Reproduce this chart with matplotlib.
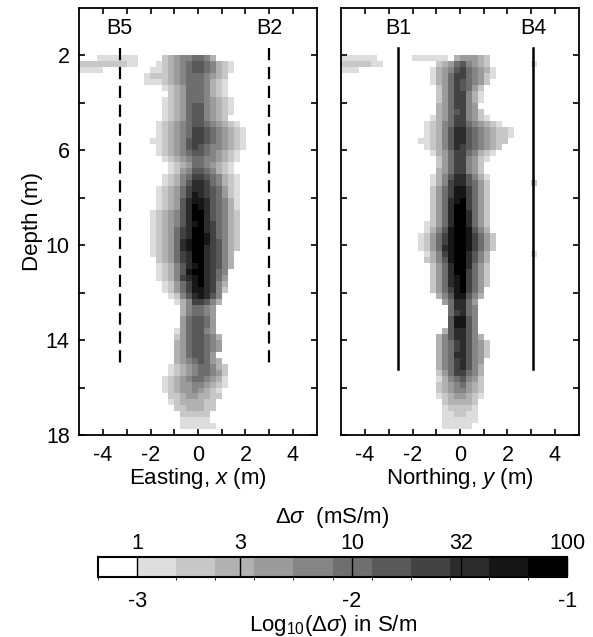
import numpy as np
import matplotlib
matplotlib.use("Agg")
import matplotlib.pyplot as plt
from matplotlib.colors import ListedColormap, BoundaryNorm

plt.rcParams['font.family'] = ['Liberation Sans', 'DejaVu Sans']
plt.rcParams['mathtext.fontset'] = 'custom'
plt.rcParams['mathtext.rm'] = 'Liberation Sans'
plt.rcParams['mathtext.it'] = 'Liberation Sans:italic'
plt.rcParams['axes.unicode_minus'] = False

# grid: 0.25 m cells, x from -5 to 5 (40 columns), depth 0 to 18 (72 rows)
# '.' = below 1 mS/m, 1..9,a,b = colour class
D = "."
east_rows = [""] * 8 + [
    D*3 + "1111111" + D*4 + "23455" + "66" + "53",
    "2222222211" + D*3 + "123456" + "77" + "65321",
    "1111" + D*8 + "1123456" + "77" + "65321",
    D*11 + "12223456" + "66" + "5432",
    D*11 + "11123456" + "66" + "5321",
    D*14 + "12346" + "66" + "5321",
    D*15 + "2346" + "66" + "5321",
    D*14 + "12346" + "66" + "54321",
    D*14 + "12346" + "77" + "54321",
    D*14 + "12346" + "77" + "54321",
    D*14 + "12346" + "77" + "5432",
    D*13 + "123456" + "77" + "654321",
    D*13 + "123456" + "88" + "7654321",
    D*13 + "123456" + "88" + "7654321",
    D*12 + "1123457" + "88" + "7654321",
    D*13 + "123457" + "87" + "6554321",
    D*13 + "123456" + "77" + "654321",
    D*14 + "12345" + "66" + "554321",
    D*15 + "1234" + "66" + "54321",
    D*15 + "1245" + "77" + "65321",
    D*14 + "12356" + "88" + "765321",
    D*14 + "12357" + "99" + "865321",
    D*13 + "123468" + "99" + "876421",
    D*13 + "123468" + "a9" + "876421",
    D*13 + "123479" + "aa" + "976531",
    D*13 + "123479" + "ba" + "976531",
    D*12 + "1234579" + "bb" + "976532",
    D*12 + "1234579" + "bb" + "976532",
    D*12 + "1234579" + "ab" + "986532",
    D*12 + "1234689" + "bb" + "986532",
    D*12 + "1234689" + "bb" + "a86532",
    D*12 + "123469a" + "bb" + "a87532",
    D*12 + "123469a" + "bb" + "987532",
    D*12 + "1234689" + "bb" + "98753",
    D*13 + "234689" + "bb" + "98753",
    D*13 + "123579" + "ab" + "98753",
    D*13 + "12357a" + "bb" + "9865",
    D*13 + "123589" + "ab" + "9864",
    D*14 + "12468" + "ab" + "9853",
    D*14 + "12468" + "aa" + "9852",
    D*15 + "1257" + "9a" + "975",
    D*16 + "135" + "88" + "753",
    D*17 + "35" + "66" + "54",
    D*17 + "35" + "66" + "54",
    D*17 + "46" + "77" + "64",
    D*17 + "46" + "77" + "64",
    D*16 + "146" + "77" + "54",
    D*16 + "246" + "77" + "653",
    D*16 + "346" + "77" + "654",
    D*16 + "346" + "77" + "654",
    D*16 + "346" + "77" + "64",
    D*16 + "345" + "67" + "643",
    D*15 + "1234" + "56" + "6532",
    D*15 + "1234" + "56" + "6542",
    D*14 + "12345" + "66" + "5431",
    D*14 + "12344" + "55" + "4321",
    D*14 + "12344" + "54" + "321",
    D*15 + "2234" + "43" + "322",
    D*15 + "1233" + "33" + "22",
    D*16 + "223" + "33" + "22",
    D*17 + "22" + "22" + "2",
    D*17 + "11" + "11" + "1",
    D*17 + "11" + "11" + "11",
    "",
]

north_rows = [""] * 8 + [
    "111111" + D*6 + "111111" + D + "344432",
    "2222211" + D*9 + "234" + "67" + "5432" + D*7 + "1",
    "111" + D*12 + "1345" + "78" + "65431",
    D*15 + "1346" + "88" + "65421",
    D*15 + "1346" + "87" + "6542",
    D*16 + "246" + "87" + "642",
    D*16 + "246" + "88" + "531",
    D*16 + "246" + "88" + "531",
    D*16 + "346" + "88" + "54",
    D*16 + "346" + "78" + "542",
    D*15 + "1346" + "88" + "5421",
    D*14 + "12356" + "88" + "654321",
    D*14 + "12357" + "99" + "76543221",
    D*14 + "12357" + "99" + "76543221",
    D*13 + "112357" + "99" + "7654322",
    D*14 + "12357" + "98" + "765432",
    D*15 + "1346" + "88" + "65321",
    D*16 + "246" + "88" + "5421",
    D*16 + "246" + "88" + "542",
    D*16 + "346" + "88" + "542",
    D*15 + "1357" + "99" + "7531",
    D*15 + "1358" + "99" + "7642" + D*7 + "2",
    D*15 + "2468" + "aa" + "8642",
    D*15 + "2468" + "aa" + "8642",
    D*15 + "2469" + "ab" + "8642",
    D*15 + "2469" + "bb" + "8642",
    D*15 + "2469" + "bb" + "9642",
    D*15 + "2469" + "bb" + "9642",
    D*14 + "12469" + "bb" + "9642",
    D*14 + "1357a" + "bb" + "a753",
    D*13 + "12468a" + "bb" + "a8642",
    D*13 + "12468a" + "bb" + "a8642",
    D*13 + "12469a" + "bb" + "a8642",
    D*14 + "1358a" + "bb" + "9753" + D*7 + "1",
    D*14 + "2357a" + "bb" + "9753",
    D*15 + "2469" + "bb" + "9642",
    D*15 + "2469" + "bb" + "8642",
    D*15 + "2469" + "ab" + "8642",
    D*15 + "2469" + "ab" + "8642",
    D*15 + "2468" + "ab" + "864",
    D*16 + "357" + "aa" + "753",
    D*17 + "46" + "99" + "64",
    D*18 + "6" + "99" + "65",
    D*18 + "6" + "89" + "65",
    D*18 + "7" + "aa" + "75",
    D*18 + "7" + "aa" + "75",
    D*17 + "37" + "99" + "75",
    D*16 + "357" + "99" + "753",
    D*16 + "356" + "89" + "7542",
    D*16 + "356" + "89" + "7542",
    D*16 + "356" + "99" + "7542",
    D*16 + "356" + "89" + "754",
    D*16 + "356" + "89" + "753",
    D*16 + "246" + "88" + "653",
    D*16 + "135" + "67" + "542",
    D*16 + "234" + "56" + "432",
    D*16 + "234" + "55" + "432",
    D*16 + "123" + "44" + "321",
    D*17 + "23" + "33" + "32",
    D*17 + "12" + "22" + "21",
    D*17 + "11" + "22" + "11",
    D*17 + "11" + "11" + "11",
    D*17 + "11" + "11" + "1",
    "",
]

boreholes_east = [("B5", -3.3), ("B2", 3.0)]
boreholes_north = [("B1", -2.6), ("B4", 3.1)]
hole_top, hole_bottom = 1.7, 15.2
label_depth = 0.85

top_tick_ms = [1, 3, 10, 32, 100]
bottom_ticks = [-3, -2, -1]

# colour classes: 12 equal bins in log10(S/m), the first one white
n_cls = 12
edges = np.linspace(-3 - 2 / 11, -1, n_cls + 1)
centers = 0.5 * (edges[:-1] + edges[1:])
grays = ["white"] + [str(g) for g in np.linspace(0.87, 0.0, 11)]
cmap = ListedColormap(grays)
norm = BoundaryNorm(edges, cmap.N)


def to_grid(rows):
    grid = np.zeros((72, 40), dtype=int)
    for i, r in enumerate(rows):
        r = r.ljust(40, ".")[:40]
        grid[i] = [0 if c == "." else int(c, 16) for c in r]
    return centers[grid]


FS = 15.5
fig = plt.figure(figsize=(5.93, 6.37), dpi=100)
ax1 = fig.add_axes([0.1332, 0.3171, 0.4013, 0.6703])
ax2 = fig.add_axes([0.5750, 0.3171, 0.4013, 0.6703])
cax = fig.add_axes([0.1653, 0.0942, 0.7910, 0.0314])

panels = [(ax1, east_rows, boreholes_east, "--", "Easting, $x$ (m)"),
          (ax2, north_rows, boreholes_north, "-", "Northing, $y$ (m)")]

for ax, rows, holes, ls, xlab in panels:
    im = ax.imshow(to_grid(rows), cmap=cmap, norm=norm, extent=[-5, 5, 18, 0],
                   interpolation="nearest", aspect="equal")
    for name, xb in holes:
        if ls == "--":
            ax.plot([xb, xb], [hole_top, hole_bottom], color="k", lw=1.6,
                    dashes=(5.5, 3))
        else:
            ax.plot([xb, xb], [hole_top, hole_bottom], color="k", lw=1.8)
        ax.text(xb, label_depth, name, ha="center", va="center", fontsize=15.5)
    ax.set_xlim(-5, 5)
    ax.set_ylim(18, 0)
    ax.set_xticks([-4, -2, 0, 2, 4])
    ax.set_xticks([-3, -1, 1, 3], minor=True)
    ax.set_yticks([2, 6, 10, 14, 18])
    ax.set_yticks([4, 8, 12, 16], minor=True)
    ax.tick_params(which="both", direction="in", top=True, right=True,
                   length=4, width=1.2, labelsize=FS, pad=7)
    ax.set_xlabel(xlab, fontsize=16, labelpad=0)
    for s in ax.spines.values():
        s.set_linewidth(1.3)

ax1.set_ylabel("Depth (m)", fontsize=16, labelpad=2)
ax2.tick_params(labelleft=False)

cb = fig.colorbar(im, cax=cax, orientation="horizontal", ticks=bottom_ticks)
cb.outline.set_linewidth(1.5)
cax.tick_params(direction="in", length=0, labelsize=FS, pad=10)
cax.set_xlabel(r"Log$_{10}$($\Delta\sigma$) in S/m", fontsize=16, labelpad=1)

top = cax.twiny()
top.set_xlim(cax.get_xlim())
top.set_xticks(np.log10(np.array(top_tick_ms) * 1e-3))
top.set_xticklabels([str(v) for v in top_tick_ms])
top.tick_params(direction="in", length=14, width=1.0, labelsize=FS, pad=2)
for t in top.xaxis.get_major_ticks():
    t.tick2line.set_linestyle((0, (1, 2)))
    t.tick2line.set_color("0.1")
top.set_xlabel(r"$\Delta\sigma$  (mS/m)", fontsize=16, labelpad=7)
for s in top.spines.values():
    s.set_visible(False)

fig.savefig("out.png", dpi=100)
